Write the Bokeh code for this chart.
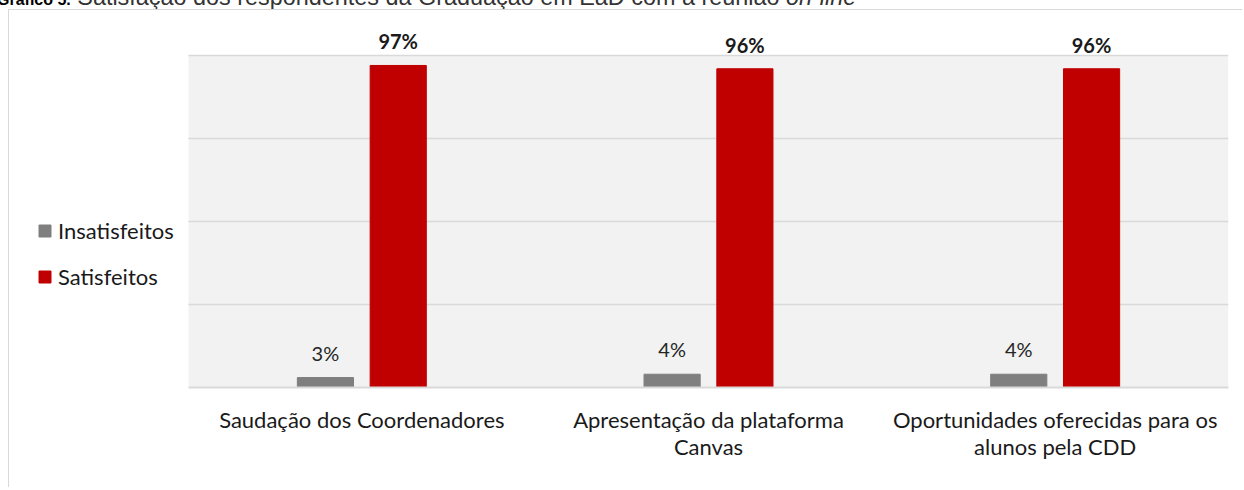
from bokeh.plotting import figure
from bokeh.models import (Range1d, FixedTicker, Legend, LegendItem, BoxAnnotation,
                          ColumnDataSource, Div, LabelSet)
from bokeh.transform import dodge
from bokeh.layouts import column
from bokeh.core.properties import value
from bokeh.embed import file_html
from bokeh.resources import INLINE

categories = ["Saudação dos Coordenadores",
              "Apresentação da plataforma\nCanvas",
              "Oportunidades oferecidas para os\nalunos pela CDD"]
insatisfeitos = [3, 4, 4]
satisfeitos = [97, 96, 96]
series_names = ["Insatisfeitos", "Satisfeitos"]
grid_ticks = [25, 50, 75, 100]
title_bold = "Gráfico 5."
title_rest = "Satisfação dos respondentes da Graduação em EaD com a reunião"
title_italic = "on-line"

FONT = "Lato"
GRAY = "#7f7f7f"
RED = "#c00000"
GRID = "#d9d9d9"

idx = list(range(len(categories)))
src = ColumnDataSource(dict(
    x=idx,
    ins=insatisfeitos,
    sat=satisfeitos,
    ins_lbl=[f"{v}%" for v in insatisfeitos],
    sat_lbl=[f"{v}%" for v in satisfeitos],
))

n = len(categories)
lo, hi = -0.5, n - 0.5
p = figure(x_range=Range1d(lo - 179 / 346.67, hi),
           y_range=Range1d(0, 377 / 3.32),
           width=1234, height=478,
           output_backend="svg", toolbar_location=None,
           y_axis_location=None,
           min_border_left=0, min_border_right=15,
           min_border_top=0, min_border_bottom=101,
           background_fill_color="white", border_fill_color="white",
           outline_line_color=None,
           styles={"border-left": "1px solid #d9d9d9", "border-top": "1px solid #d9d9d9",
                   "margin-left": "8px", "margin-top": "-2px"})

# plot-area background and horizontal gridlines (limited to the category span)
p.add_layout(BoxAnnotation(left=lo, right=hi, bottom=0, top=100,
                           fill_color="#f2f2f2", fill_alpha=1, line_color=None, level="image"))
p.segment(x0=[lo] * len(grid_ticks), x1=[hi] * len(grid_ticks), y0=grid_ticks, y1=grid_ticks,
          line_color=GRID, line_width=1.3, level="underlay")
for g in p.grid:
    g.grid_line_color = None

off = 0.105
bw = 0.162
r_ins = p.vbar(x=dodge("x", -off), top="ins", width=bw, source=src, color=GRAY)
r_sat = p.vbar(x=dodge("x", off), top="sat", width=bw, source=src, color=RED)

lbl_ins = LabelSet(x=dodge("x", -off), y="ins", text="ins_lbl", source=src,
                   text_font=value(FONT), text_font_size="20px", text_color="#262626",
                   text_align="center", text_baseline="middle", y_offset=25)
lbl_sat = LabelSet(x=dodge("x", off), y="sat", text="sat_lbl", source=src,
                   text_font=value(FONT), text_font_size="20px", text_font_style="bold",
                   text_color="#1a1a1a", text_align="center", text_baseline="middle", y_offset=24)
p.add_layout(lbl_ins)
p.add_layout(lbl_sat)

ax = p.xaxis[0]
ax.bounds = (lo, hi)
ax.ticker = FixedTicker(ticks=idx)
ax.major_label_overrides = {i: c for i, c in zip(idx, categories)}
ax.axis_line_color = GRID
ax.axis_line_width = 2
ax.major_tick_line_color = None
ax.minor_tick_line_color = None
ax.major_label_text_font = FONT
ax.major_label_text_font_size = "22px"
ax.major_label_text_color = "#1a1a1a"
ax.major_label_text_line_height = 1.0
ax.major_label_standoff = 12

legend = Legend(items=[LegendItem(label=series_names[0], renderers=[r_ins]),
                       LegendItem(label=series_names[1], renderers=[r_sat])],
                location=(28, 97), orientation="vertical",
                glyph_width=15, glyph_height=15, label_height=20,
                spacing=19, padding=0, margin=0, label_standoff=6,
                label_text_font=FONT, label_text_font_size="22px",
                label_text_color="#1a1a1a",
                border_line_color=None, background_fill_alpha=0)
p.add_layout(legend, "center")

title = Div(text=("<div style='position:relative; top:-19px; left:-8px; white-space:nowrap;"
                  "font-family:Liberation Sans; font-size:23.4px; line-height:22px; color:#333'>"
                  "<span style=\"font-weight:bold;color:#000;font-size:16px;"
                  "font-family:'Liberation Sans'\">"
                  f"{title_bold}</span> "
                  f"{title_rest} <i>{title_italic}</i></div>"),
            width=1200, height=1)

layout = column(title, p, spacing=0)

open("out.html", "w").write(file_html(layout, INLINE))
